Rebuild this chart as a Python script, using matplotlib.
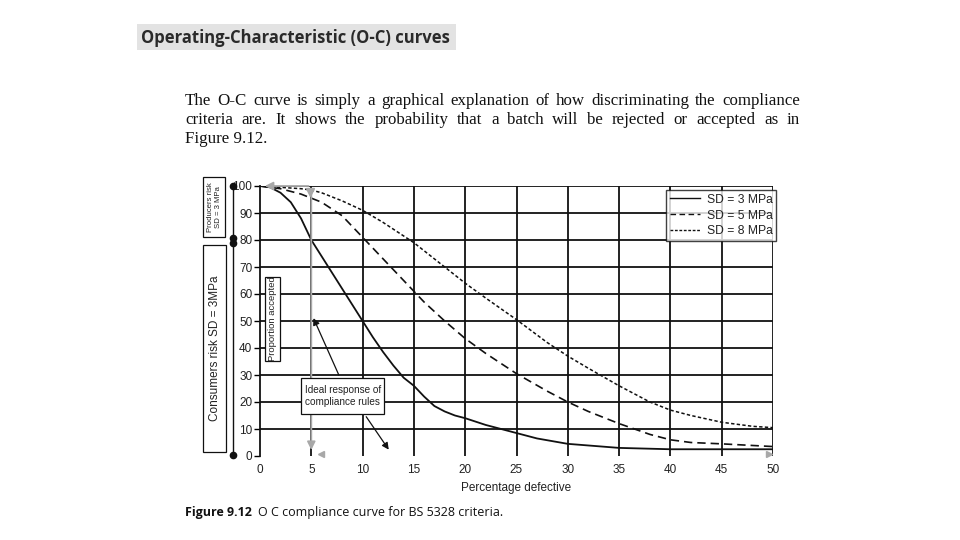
import matplotlib
matplotlib.use("Agg")
import matplotlib.pyplot as plt
from matplotlib.patches import Rectangle
from matplotlib.lines import Line2D

# ---------------- data ----------------
x_sd3 = [0, 1, 2, 3, 4, 5, 6, 7, 8, 9, 10, 11, 12, 13, 14, 15, 16, 17, 18, 19, 20, 22, 25, 27, 30, 35, 40, 45, 50]
y_sd3 = [100, 99.5, 97.5, 94, 88, 80, 74, 68, 62, 56, 50, 44, 38.5, 33.5, 29, 26, 22, 18.5, 16.5, 15, 14, 11.5, 8.5, 6.5, 4.5, 3, 2.5, 2.5, 2.5]

x_sd5 = [0, 2, 4, 5, 6, 8, 10, 12, 14, 15, 16, 18, 20, 22, 25, 28, 30, 32, 35, 38, 40, 42, 45, 50]
y_sd5 = [100, 99, 97, 95.5, 94, 89, 81, 73, 65, 61, 57, 50, 43.5, 38, 30.5, 24, 20, 16.5, 12, 8, 6, 5, 4.5, 3.5]

x_sd8 = [0, 2, 4, 5, 6, 8, 10, 12, 14, 15, 16, 18, 20, 22, 25, 28, 30, 32, 35, 38, 40, 42, 45, 48, 50]
y_sd8 = [100, 99.5, 99, 98.5, 97.5, 94.5, 91, 86.5, 81.5, 79, 76, 70, 64, 58.5, 50.5, 42, 37, 32.5, 26, 20, 17, 15, 12.5, 11, 10.5]

series_labels = ["SD = 3 MPa", "SD = 5 MPa", "SD = 8 MPa"]
x_ticks = [0, 5, 10, 15, 20, 25, 30, 35, 40, 45, 50]
y_ticks = [0, 10, 20, 30, 40, 50, 60, 70, 80, 90, 100]

title_text = "Operating-Characteristic (O-C) curves"
para_lines = [
    "The O-C curve is simply a graphical explanation of how discriminating the compliance",
    "criteria are. It shows the probability that a batch will be rejected or accepted as in",
    "Figure 9.12.",
]
caption_bold = "Figure 9.12"
caption_rest = "O C compliance curve for BS 5328 criteria."

# ---------------- figure ----------------
W, H = 960, 540
fig = plt.figure(figsize=(9.6, 5.4), dpi=100)
fig.patch.set_facecolor("white")


def px(x, y):
    return x / W, 1 - y / H


SANS = ["Liberation Sans", "DejaVu Sans"]

# title box
fig.patches.append(Rectangle(px(137, 50), 319 / W, 26 / H, transform=fig.transFigure,
                             facecolor="#e3e3e3", edgecolor="none", zorder=0))
fig.text(*px(141, 38), title_text, fontsize=12.0, fontweight="bold", family=["Open Sans", "DejaVu Sans"],
         color="#2a2a2a", va="center", ha="left")

# justified paragraph
renderer = fig.canvas.get_renderer()
left_px, right_px = 185, 800
for i, line in enumerate(para_lines):
    ybase = 105 + i * 19
    words = line.split(" ")
    if i == len(para_lines) - 1:
        fig.text(*px(left_px, ybase), line, fontsize=12.2, family=["Liberation Serif"],
                 va="baseline", ha="left", color="#111111")
        continue
    texts = [fig.text(0, 0, w, fontsize=12.2, family=["Liberation Serif"], va="baseline",
                      ha="left", color="#111111") for w in words]
    widths = [t.get_window_extent(renderer).width for t in texts]
    gap = (right_px - left_px - sum(widths)) / (len(words) - 1)
    xcur = left_px
    for t, wdt in zip(texts, widths):
        t.set_position(px(xcur, ybase))
        xcur += wdt + gap

# caption
tb = fig.text(*px(185, 516), caption_bold, fontsize=9.0, fontweight="bold",
              family=["Open Sans", "DejaVu Sans"], va="baseline", ha="left", color="#111111")
bw = tb.get_window_extent(renderer).width
fig.text(*px(185 + bw + 6, 516), caption_rest, fontsize=9.0,
         family=["Open Sans", "DejaVu Sans"], va="baseline", ha="left", color="#111111")

# ---------------- axes ----------------
ax_l, ax_r, ax_t, ax_b = 260, 773, 186, 456
ax = fig.add_axes([ax_l / W, 1 - ax_b / H, (ax_r - ax_l) / W, (ax_b - ax_t) / H])
ax.set_xlim(0, 50)
ax.set_ylim(0, 100)

for yv in y_ticks[1:]:
    ax.axhline(yv, color="#111111", lw=1.3, zorder=1)
for xv in x_ticks[1:]:
    ax.axvline(xv, color="#111111", lw=1.3, zorder=1)
ax.spines["bottom"].set_visible(False)
ax.spines["top"].set_visible(False)
ax.spines["right"].set_visible(False)
ax.spines["left"].set_linewidth(1.3)
ax.spines["left"].set_color("#111111")

ax.set_xticks(x_ticks)
ax.set_yticks(y_ticks)
ax.tick_params(axis="x", length=0, pad=6, labelsize=8.5, labelcolor="#222222")
ax.tick_params(axis="y", length=4, width=1.0, pad=1.5, labelsize=8.5, labelcolor="#222222")
for lab in ax.get_xticklabels() + ax.get_yticklabels():
    lab.set_family(SANS)
ax.set_xlabel("Percentage defective", fontsize=8.5, family=SANS, color="#222222", labelpad=4)

l1, = ax.plot(x_sd3, y_sd3, color="#111111", lw=1.3, zorder=3)
l2, = ax.plot(x_sd5, y_sd5, color="#111111", lw=1.2, dashes=(5, 3), zorder=3)
l3, = ax.plot(x_sd8, y_sd8, color="#111111", lw=1.1, dashes=(2.2, 1.5), zorder=3)

leg = ax.legend([Line2D([0], [0], color="#111111", lw=1.0),
                 Line2D([0], [0], color="#111111", lw=1.0, dashes=(4, 2.5)),
                 Line2D([0], [0], color="#111111", lw=1.0, dashes=(2, 1.2))],
                series_labels, loc="upper right", bbox_to_anchor=(1.006, 0.985),
                prop={"family": SANS, "size": 8.7}, frameon=True, fancybox=False,
                handlelength=2.5, handletextpad=0.55, borderpad=0.3, labelspacing=0.32,
                borderaxespad=0)
leg.get_frame().set_edgecolor("#111111")
leg.get_frame().set_linewidth(1.0)
for t in leg.get_texts():
    t.set_color("#222222")
leg.set_zorder(5)

# gray arrows (ideal response)
gray = "#a8a8a8"
ax.annotate("", xy=(0.2, 100), xytext=(5, 100),
            arrowprops=dict(arrowstyle="-|>", color=gray, lw=1.3, mutation_scale=12), annotation_clip=False, zorder=4)
ax.annotate("", xy=(5, 1.2), xytext=(5, 99.5),
            arrowprops=dict(arrowstyle="-|>", color=gray, lw=1.3, mutation_scale=12), annotation_clip=False, zorder=4)
ax.plot([4.9], [97.8], marker="v", color=gray, ms=6, zorder=4)
ax.plot([5.9], [0.6], marker="<", color=gray, ms=5, clip_on=False, zorder=4)
ax.plot([49.6], [0.6], marker=">", color=gray, ms=5, clip_on=False, zorder=4)

# black arrows from annotation box
ax.annotate("", xy=(5.1, 52), xytext=(7.8, 29),
            arrowprops=dict(arrowstyle="-|>", color="#111111", lw=0.9, mutation_scale=10), zorder=4)
ax.annotate("", xy=(12.7, 1.5), xytext=(10.2, 15.4),
            arrowprops=dict(arrowstyle="-|>", color="#111111", lw=0.9, mutation_scale=10),
            annotation_clip=False, zorder=4)

ax.add_patch(Rectangle((4.0, 15.6), 8.1, 13.4, facecolor="white", edgecolor="#111111", lw=0.9, zorder=5))
ax.text(4.35, 22.3, "Ideal response of\ncompliance rules", fontsize=7.2, family=SANS, color="#222222",
        va="center", ha="left", linespacing=1.25, zorder=6)

# Proportion accepted box
ax.add_patch(Rectangle((0.5, 35.2), 1.45, 31.0, facecolor="white", edgecolor="#111111", lw=0.9, zorder=5))
ax.text(1.22, 50.7, "Proportion accepted", rotation=90, fontsize=6.8, family=SANS, color="#222222",
        va="center", ha="center", zorder=6)

# ---------------- left decorations ----------------
fig.add_artist(Line2D([233 / W, 233 / W], [1 - 186 / H, 1 - 455 / H], color="#111111", lw=1.0,
                      transform=fig.transFigure))
for yy in [186, 238, 243, 455]:
    fig.add_artist(Line2D([233 / W], [1 - yy / H], marker="o", ms=4.5, color="#111111",
                          transform=fig.transFigure))

fig.patches.append(Rectangle(px(203, 237), 22 / W, 60 / H, transform=fig.transFigure,
                             facecolor="white", edgecolor="#111111", lw=0.9))
fig.text(*px(214.5, 207), "Producers risk\nSD = 3 MPa", rotation=90, fontsize=5.6, family=SANS,
         color="#222222", va="center", ha="center", linespacing=1.3)
fig.patches.append(Rectangle(px(203, 452), 23 / W, 207 / H, transform=fig.transFigure,
                             facecolor="white", edgecolor="#111111", lw=0.9))
fig.text(*px(214.5, 348), "Consumers risk SD = 3MPa", rotation=90, fontsize=8.5, family=SANS,
         color="#222222", va="center", ha="center")

fig.savefig("out.png", dpi=100)
